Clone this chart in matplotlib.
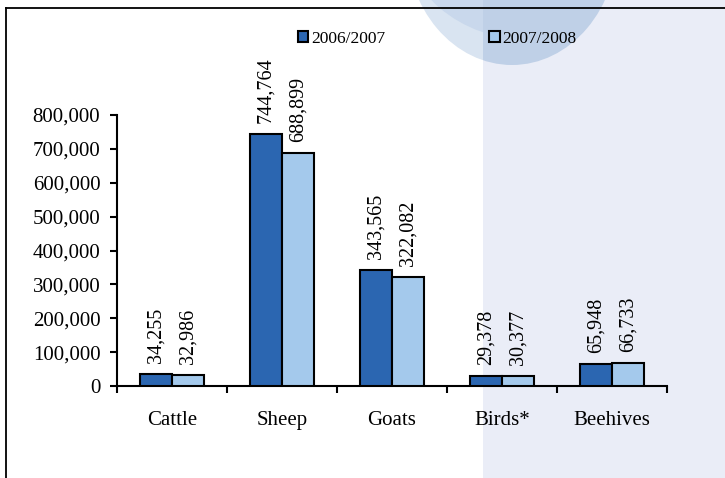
import matplotlib.pyplot as plt
import numpy as np
from matplotlib.patches import Ellipse, Rectangle
from matplotlib.ticker import FuncFormatter, MultipleLocator

plt.rcParams['font.family'] = ['Liberation Serif', 'DejaVu Serif']

categories = ['Cattle', 'Sheep', 'Goats', 'Birds*', 'Beehives']
season_labels = ['2006/2007', '2007/2008']
values_0607 = [34255, 744764, 343565, 29378, 65948]
values_0708 = [32986, 688899, 322082, 30377, 66733]

DARK = '#2b66b1'
LIGHT = '#a4c9ec'

fig = plt.figure(figsize=(7.25, 4.78), dpi=100)

# background decoration in pixel coordinates
bg = fig.add_axes([0, 0, 1, 1])
bg.set_xlim(0, 725)
bg.set_ylim(478, 0)
bg.axis('off')
bg.add_patch(Rectangle((483, 0), 242, 478, color='#eaedf7', lw=0, zorder=0))

left_clip = Rectangle((0, 0), 483, 478, transform=bg.transData)
right_clip = Rectangle((483, 0), 242, 478, transform=bg.transData)

outer = Ellipse((512, -60), 212, 250, color='#d9e4f1', lw=0, zorder=1)
bg.add_patch(outer)
outer.set_clip_path(left_clip)
inner = Ellipse((530, -70), 256, 220, color='#c9d8ec', lw=0, zorder=2)
bg.add_patch(inner)
inner.set_clip_path(left_clip)
outer_r = Ellipse((512, -60), 212, 250, color='#bfd0e7', lw=0, zorder=2)
bg.add_patch(outer_r)
outer_r.set_clip_path(right_clip)

bg.plot([6, 725], [8, 8], color='black', lw=1.3, zorder=3)
bg.plot([6, 6], [8, 478], color='black', lw=1.3, zorder=3)

# chart
ax = fig.add_axes([117 / 725, (478 - 386) / 478, 550 / 725, (386 - 115) / 478])
ax.patch.set_alpha(0)

x = np.arange(len(categories))
w = 0.29
b1 = ax.bar(x - w / 2, values_0607, w, color=DARK, edgecolor='black', lw=1.5,
            label=season_labels[0], zorder=3)
b2 = ax.bar(x + w / 2, values_0708, w, color=LIGHT, edgecolor='black', lw=1.5,
            label=season_labels[1], zorder=3)

for bars, vals in [(b1, values_0607), (b2, values_0708)]:
    for rect, v in zip(bars, vals):
        ax.annotate(f'{v:,}', (rect.get_x() + rect.get_width() / 2, v),
                    xytext=(0, 8), textcoords='offset points',
                    rotation=90, ha='center', va='bottom', fontsize=14.5)

ax.set_xlim(-0.5, len(categories) - 0.5)
ax.set_ylim(0, 800000)
ax.yaxis.set_major_locator(MultipleLocator(100000))
ax.yaxis.set_major_formatter(FuncFormatter(lambda v, p: f'{int(v):,}'))
ax.set_xticks(x)
ax.set_xticklabels(categories)
ax.set_xticks(np.arange(-0.5, len(categories)), minor=True)

for s in ['top', 'right']:
    ax.spines[s].set_visible(False)
for s in ['left', 'bottom']:
    ax.spines[s].set_linewidth(1.5)

ax.tick_params(axis='x', which='major', length=0, pad=18, labelsize=15)
ax.tick_params(axis='x', which='minor', length=5, width=1.5, direction='out')
ax.tick_params(axis='y', length=5, width=1.5, pad=7, labelsize=15)

fig.legend(handles=[b1, b2], loc='center left', bbox_to_anchor=(298 / 725, 1 - 39 / 478),
           ncol=2, frameon=False, fontsize=12.5, handlelength=0.6, handleheight=0.6,
           handletextpad=0.15, columnspacing=6.0, borderaxespad=0, borderpad=0)

fig.savefig('out.png', dpi=100)
